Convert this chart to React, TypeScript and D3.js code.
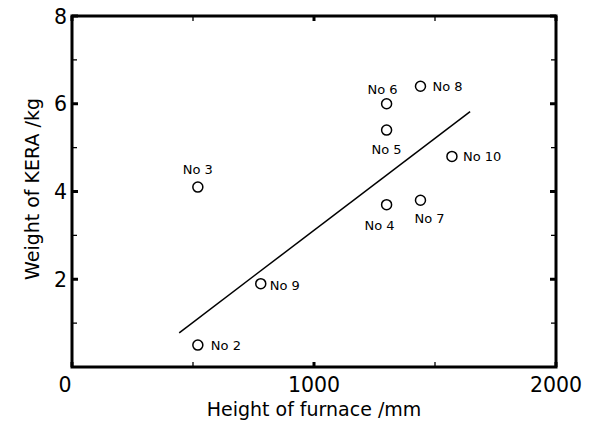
import React from "react";
import * as d3 from "d3";

const labels = ["No 2", "No 3", "No 4", "No 5", "No 6", "No 7", "No 8", "No 9", "No 10"];
const heights = [520, 520, 1300, 1300, 1300, 1440, 1440, 780, 1570];
const weights = [0.5, 4.1, 3.7, 5.4, 6.0, 3.8, 6.4, 1.9, 4.8];
// label placement: [dx, dy, anchor]
const labelPlace: [number, number, string][] = [
  [13, 5, "start"],
  [0, -13, "middle"],
  [-7, 25, "middle"],
  [0, 24, "middle"],
  [-4, -10, "middle"],
  [9, 23, "middle"],
  [12, 5, "start"],
  [9, 6, "start"],
  [11, 5, "start"],
];
const fitX = [443, 1645];
const fitY = [0.78, 5.82];
const xMajor = [1000, 2000];
const xMinor = [500, 1500];
const yMajor = [2, 4, 6, 8];
const yMinor = [1, 3, 5, 7];

export default function App() {
  const W = 594, H = 427;
  const x = d3.scaleLinear().domain([0, 2000]).range([72, 556]);
  const y = d3.scaleLinear().domain([0, 8]).range([367, 16]);
  const font = "'DejaVu Sans', Verdana, sans-serif";
  const line = d3.line<number>().x((d, i) => x(fitX[i])).y((d) => y(d));
  const x0 = x(0), x1 = x(2000), y0 = y(0), y1 = y(8);
  return (
    <svg width={W} height={H} style={{ position: "absolute", left: 0, top: 0, background: "#fff" }}>
      <rect x={0} y={0} width={W} height={H} fill="#fff" />
      {/* ticks */}
      {xMajor.concat([0]).map((v) => (
        <g key={"xM" + v}>
          <line x1={x(v)} x2={x(v)} y1={y0} y2={y0 - 5} stroke="#000" strokeWidth={3} />
          <line x1={x(v)} x2={x(v)} y1={y1} y2={y1 + 5} stroke="#000" strokeWidth={3} />
        </g>
      ))}
      {xMinor.map((v) => (
        <g key={"xm" + v}>
          <line x1={x(v)} x2={x(v)} y1={y0} y2={y0 - 5} stroke="#000" strokeWidth={1.3} />
          <line x1={x(v)} x2={x(v)} y1={y1} y2={y1 + 5} stroke="#000" strokeWidth={1.3} />
        </g>
      ))}
      {yMajor.map((v) => (
        <g key={"yM" + v}>
          <line x1={x0} x2={x0 + 6} y1={y(v)} y2={y(v)} stroke="#000" strokeWidth={3} />
          <line x1={x1} x2={x1 - 6} y1={y(v)} y2={y(v)} stroke="#000" strokeWidth={3} />
        </g>
      ))}
      {yMinor.map((v) => (
        <g key={"ym" + v}>
          <line x1={x0} x2={x0 + 5} y1={y(v)} y2={y(v)} stroke="#000" strokeWidth={1.3} />
          <line x1={x1} x2={x1 - 5} y1={y(v)} y2={y(v)} stroke="#000" strokeWidth={1.3} />
        </g>
      ))}
      <rect x={x0} y={y1} width={x1 - x0} height={y0 - y1} fill="none" stroke="#000" strokeWidth={3} />
      {/* tick labels */}
      {xMajor.map((v) => (
        <text key={"xl" + v} x={x(v)} y={y0 + 25} textAnchor="middle" fontFamily={font} fontSize={20.5}>{v}</text>
      ))}
      <text x={65} y={y0 + 25} textAnchor="middle" fontFamily={font} fontSize={20.5}>0</text>
      {yMajor.map((v) => (
        <text key={"yl" + v} x={x0 - 5} y={y(v) + 7.5} textAnchor="end" fontFamily={font} fontSize={20.5}>{v}</text>
      ))}
      {/* titles */}
      <text x={314} y={416} textAnchor="middle" fontFamily={font} fontSize={19}>Height of furnace /mm</text>
      <text transform={`translate(39,189) rotate(-90)`} textAnchor="middle" fontFamily={font} fontSize={19}>Weight of KERA /kg</text>
      {/* fit line */}
      <path d={line(fitY) || ""} fill="none" stroke="#000" strokeWidth={1.5} />
      {/* points */}
      {labels.map((l, i) => (
        <g key={l}>
          <circle cx={x(heights[i])} cy={y(weights[i])} r={5} fill="#fff" stroke="#000" strokeWidth={1.5} />
          <text x={x(heights[i]) + labelPlace[i][0]} y={y(weights[i]) + labelPlace[i][1]} textAnchor={labelPlace[i][2]} fontFamily={font} fontSize={13}>{l}</text>
        </g>
      ))}
    </svg>
  );
}
